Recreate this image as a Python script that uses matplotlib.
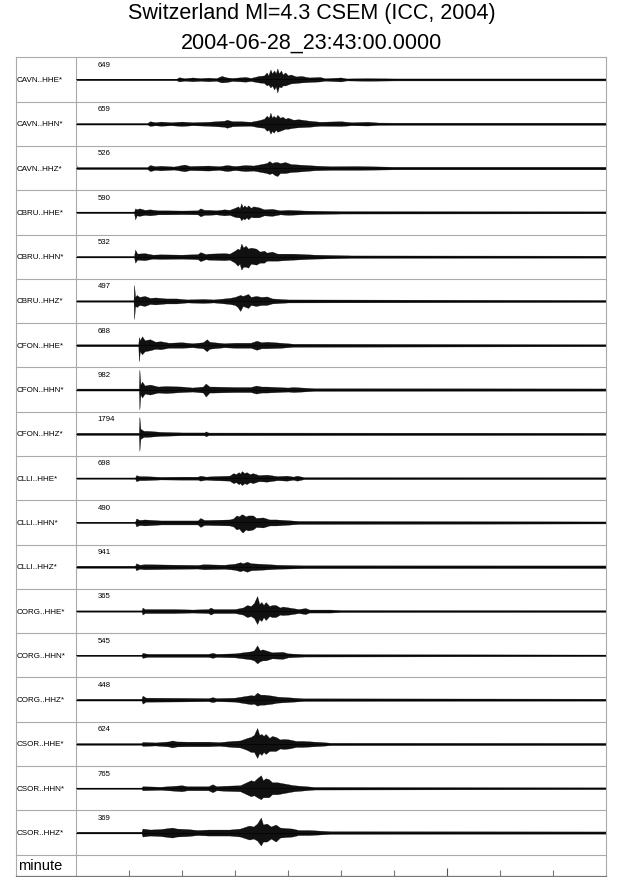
import matplotlib.pyplot as plt

plt.rcParams['font.family'] = ['Liberation Sans', 'DejaVu Sans']

title_1 = "Switzerland Ml=4.3 CSEM (ICC, 2004)"
title_2 = "2004-06-28_23:43:00.0000"

channels = ["CAVN..HHE*", "CAVN..HHN*", "CAVN..HHZ*",
            "CBRU..HHE*", "CBRU..HHN*", "CBRU..HHZ*",
            "CFON..HHE*", "CFON..HHN*", "CFON..HHZ*",
            "CLLI..HHE*", "CLLI..HHN*", "CLLI..HHZ*",
            "CORG..HHE*", "CORG..HHN*", "CORG..HHZ*",
            "CSOR..HHE*", "CSOR..HHN*", "CSOR..HHZ*"]
peaks = [649, 659, 526, 590, 532, 497, 688, 982, 1794,
         698, 490, 941, 365, 545, 448, 624, 765, 369]

# envelope of each trace: (minute, amplitude up, amplitude down)
cavn_hhe = [(0, .8, .8), (1.9, .8, .8), (1.95, 2.2, 2), (2.05, 1.2, 1.2), (2.2, 2, 1.8),
            (2.35, 1.3, 1.3), (2.5, 1.8, 1.8), (2.65, 1.3, 1.3), (2.75, 3.5, 3),
            (2.85, 2, 2.5), (2.95, 1.5, 1.5), (3.2, 2.5, 2.2), (3.3, 1.5, 1.5),
            (3.45, 3.5, 3), (3.55, 4, 3.5), (3.6, 7, 6), (3.63, 4, 5), (3.67, 10, 8),
            (3.7, 6, 6), (3.74, 9, 10), (3.77, 6, 7), (3.8, 11, 13), (3.83, 6, 7),
            (3.87, 9, 8), (3.9, 5, 6), (3.95, 7, 6), (4.0, 4, 5), (4.05, 5, 4),
            (4.15, 3, 3.5), (4.25, 3.5, 3), (4.4, 2, 2.5), (4.6, 2.5, 2), (4.7, 1.2, 1.2),
            (5.0, 2, 2), (5.1, 1, 1), (5.5, 1.3, 1.3), (6.0, 1, 1), (10, 1, 1)]
cavn_hhn = [(0, .8, .8), (1.35, .8, .8), (1.4, 2.5, 2.2), (1.5, 1.5, 1.5), (1.6, 2.2, 2),
            (1.8, 1.5, 1.5), (2.0, 2.2, 2.2), (2.2, 1.5, 1.5), (2.5, 2, 2),
            (2.8, 3, 3), (2.85, 4, 4), (2.95, 2.5, 2.5), (3.1, 2.5, 2.2), (3.3, 2, 2),
            (3.45, 3.5, 3.5), (3.55, 5, 4), (3.6, 8, 7), (3.64, 6, 6), (3.67, 11, 10),
            (3.7, 6, 7), (3.73, 8, 9), (3.77, 6, 6), (3.8, 9, 8), (3.85, 6, 7),
            (3.9, 7, 6), (3.95, 5, 5), (4.0, 6, 5), (4.1, 4, 4), (4.2, 4.5, 3.5),
            (4.4, 3, 3), (4.6, 2, 2), (5.0, 2.5, 2.2), (5.2, 1.5, 1.5), (5.5, 2, 1.8),
            (5.7, 1.2, 1.2), (6.0, 1.1, 1.1), (10, 1.1, 1.1)]
cavn_hhz = [(0, 8, 2), (0.02, 1, 1), (1.35, 1, 1), (1.4, 3, 3), (1.5, 1.8, 1.8),
            (1.6, 2.3, 2.3), (1.85, 1.5, 1.5), (2.05, 3.5, 3.2), (2.15, 2, 2),
            (2.5, 2.5, 2.5), (2.7, 1.8, 1.8), (2.85, 3, 3), (3.0, 2, 2), (3.2, 3, 3),
            (3.35, 2.5, 2.5), (3.5, 4, 4), (3.6, 5, 5), (3.65, 7, 6), (3.7, 5, 5),
            (3.75, 6, 7), (3.8, 6, 8), (3.85, 5, 5), (3.95, 6, 5), (4.05, 4, 4),
            (4.2, 3.5, 3.5), (4.5, 2.5, 2.2), (4.8, 1.8, 1.8), (5.3, 2, 1.8),
            (6.0, 1.3, 1.3), (10, 1.3, 1.3)]
cbru_hhe = [(0, .8, .8), (1.1, .8, .8), (1.12, 4, 7), (1.15, 3, 3), (1.2, 4, 3.5),
            (1.3, 2.5, 2.5), (1.4, 3, 3), (1.55, 2, 2), (1.7, 2, 2), (2.0, 1.8, 1.8),
            (2.3, 2, 2), (2.35, 4, 4), (2.42, 2.5, 2.5), (2.5, 2.5, 2.5), (2.65, 2, 2),
            (2.8, 3, 3), (2.9, 2.5, 2.5), (3.0, 4.5, 4.5), (3.06, 6, 5), (3.09, 4, 5),
            (3.12, 9, 8), (3.15, 5, 6), (3.18, 7, 7), (3.22, 5, 5), (3.25, 7, 7),
            (3.3, 4.5, 4.5), (3.35, 6, 5), (3.45, 5, 5), (3.55, 3, 3), (3.7, 3.5, 3.5),
            (3.85, 2, 2), (4.0, 2.5, 2.5), (4.3, 1.8, 1.8), (5.0, 1.2, 1.2), (10, 1, 1)]
cbru_hhn = [(0, .8, .8), (1.1, .8, .8), (1.12, 7, 6), (1.16, 3, 3), (1.3, 3.5, 3.5),
            (1.45, 2, 2), (1.6, 2.3, 2.3), (2.0, 2, 2), (2.3, 2.5, 2.5), (2.35, 4.5, 4.5),
            (2.45, 2.5, 2.5), (2.5, 3, 3), (2.8, 3.5, 3.5), (2.9, 3, 3), (3.0, 6, 6),
            (3.05, 8, 9), (3.09, 7, 7), (3.12, 13, 13), (3.16, 9, 10), (3.2, 11, 10),
            (3.25, 8, 11), (3.3, 9, 7), (3.4, 8, 8), (3.47, 5, 6), (3.55, 6, 6),
            (3.6, 4, 4), (3.7, 5, 4), (3.8, 3, 4), (4.1, 3, 3), (4.5, 2, 2),
            (5.2, 1.2, 1.2), (10, 1, 1)]
cbru_hhz = [(0, .8, .8), (1.09, .8, .8), (1.1, 16, 18), (1.12, 4, 5), (1.15, 6, 6),
            (1.2, 4, 4), (1.3, 5, 5), (1.4, 3, 3), (1.5, 3.5, 3.5), (1.7, 2.5, 2.5),
            (1.9, 2.5, 2.5), (2.1, 1.5, 1.5), (2.4, 2, 2), (2.6, 1.5, 1.5),
            (2.9, 3, 3), (3.0, 4, 4), (3.05, 5, 6), (3.1, 6, 10), (3.15, 5, 5),
            (3.25, 7, 7), (3.3, 4, 4), (3.4, 5, 5), (3.5, 4, 4), (3.6, 4.5, 4),
            (3.7, 2.5, 2.5), (4.0, 1.5, 1.5), (10, 1, 1)]
cfon_hhe = [(0, 1, 1), (1.18, 1, 1), (1.19, 8, 16), (1.21, 5, 6), (1.25, 9, 9),
            (1.3, 5, 6), (1.4, 6, 5), (1.5, 3.5, 3.5), (1.6, 4, 4), (1.75, 2.5, 2.5),
            (2.0, 3, 2.5), (2.2, 2, 2), (2.4, 3, 3), (2.47, 6, 6), (2.52, 3.5, 3.5),
            (2.6, 3, 3), (2.8, 2, 2), (3.0, 2.5, 2.5), (3.3, 2.5, 2.5), (3.41, 4.5, 4.5),
            (3.5, 3, 3), (3.6, 3.5, 3), (3.87, 2.5, 2.5), (4.1, 1.5, 1.5), (10, 1, 1)]
cfon_hhn = [(0, 1, 1), (1.19, 1, 1), (1.2, 20, 20), (1.22, 5, 5), (1.25, 8, 8),
            (1.3, 4, 4), (1.4, 5, 5), (1.55, 3, 3), (1.7, 3.5, 3.5), (2.0, 3, 2.5),
            (2.2, 2, 2), (2.4, 3, 3), (2.45, 6, 7), (2.52, 3, 3), (2.6, 3, 3),
            (3.0, 2.5, 2.5), (3.3, 2.5, 2.5), (3.4, 4, 4), (3.5, 3, 3), (3.6, 3, 3),
            (4.0, 2, 2), (4.1, 2.5, 2.5), (4.5, 1.3, 1.3), (10, 1.1, 1.1)]
cfon_hhz = [(0, 1.1, 1.1), (1.19, 1.1, 1.1), (1.2, 17, 17), (1.22, 5, 5), (1.28, 3, 3),
            (1.35, 3, 3), (1.6, 2, 2), (2.0, 1.4, 1.4), (2.43, 1.4, 1.4),
            (2.45, 2.5, 2.5), (2.5, 1.3, 1.3), (10, 1.1, 1.1)]
clli_hhe = [(0, .7, .7), (1.12, .7, .7), (1.14, 3, 3), (1.2, 2, 2), (1.3, 2, 2),
            (1.6, 1.3, 1.3), (2.0, 1.5, 1.5), (2.3, 1.5, 1.5), (2.35, 2.5, 2.5),
            (2.45, 1.5, 1.5), (2.6, 2, 2), (2.9, 2.5, 2.5), (2.97, 5, 5), (3.02, 4, 4),
            (3.07, 6, 6), (3.1, 4.5, 5), (3.13, 7, 7), (3.18, 5, 5), (3.22, 6, 6),
            (3.28, 4, 4), (3.34, 5, 5), (3.45, 3, 3), (3.6, 3.5, 3.5), (3.8, 2, 2),
            (3.98, 2.5, 2.5), (4.1, 1.5, 1.5), (4.17, 2.5, 2.5), (4.3, 1, 1), (10, .9, .9)]
clli_hhn = [(0, .7, .7), (1.12, .7, .7), (1.14, 4, 4), (1.2, 2.5, 2.5), (1.3, 3, 3),
            (1.6, 2, 2), (2.0, 2, 2), (2.3, 2, 2), (2.35, 4.5, 4.5), (2.42, 2.5, 2.5),
            (2.5, 2.5, 2.5), (2.9, 3, 3), (2.97, 4, 4), (3.03, 7, 7), (3.08, 6, 6),
            (3.12, 8, 9), (3.15, 8, 10), (3.2, 6, 7), (3.25, 7, 8), (3.34, 7, 7),
            (3.4, 4.5, 4.5), (3.53, 5, 5), (3.65, 3, 3), (3.78, 3, 3), (4.2, 1.5, 1.5),
            (10, 1, 1)]
clli_hhz = [(0, 1.1, 1.1), (1.12, 1.1, 1.1), (1.14, 3.5, 3.5), (1.2, 2, 2), (1.3, 2.5, 2.5),
            (2.0, 2, 2), (2.3, 1.8, 1.8), (2.41, 2.5, 2.5), (2.8, 2, 2), (3.0, 3, 3),
            (3.1, 4.5, 4.5), (3.15, 3.5, 3.5), (3.23, 5, 5), (3.3, 3.5, 3.5),
            (3.48, 3, 3), (3.8, 2, 2), (4.3, 1.4, 1.4), (10, 1.3, 1.3)]
corg_hhe = [(0, .7, .7), (1.24, .7, .7), (1.26, 3.5, 3.5), (1.3, 2, 2), (1.4, 2, 2),
            (1.85, 2, 2), (2.2, 1.5, 1.5), (2.5, 2, 2), (2.54, 3.5, 3.5), (2.6, 2, 2),
            (2.7, 2, 2), (3.0, 2, 2), (3.15, 3.5, 3.5), (3.23, 6, 6), (3.3, 5, 5),
            (3.36, 8, 7), (3.42, 15, 13), (3.46, 7, 8), (3.5, 9, 10), (3.54, 6, 6),
            (3.58, 9, 9), (3.65, 5, 5), (3.7, 6, 6), (3.77, 6, 6), (3.85, 3.5, 3.5),
            (3.9, 4.5, 4), (4.02, 3.5, 3.5), (4.2, 2, 2), (4.33, 3, 3), (4.4, 1.5, 1.5),
            (4.8, 1.5, 1.5), (5.0, 1, 1), (10, .9, .9)]
corg_hhn = [(0, .7, .7), (1.24, .7, .7), (1.26, 2.5, 2.5), (1.35, 1.5, 1.5),
            (1.6, 1.5, 1.5), (2.5, 1.5, 1.5), (2.58, 2.5, 2.5), (2.65, 1.5, 1.5),
            (3.0, 2, 2), (3.3, 4, 4), (3.36, 5, 5), (3.42, 10, 8), (3.47, 5, 6),
            (3.52, 6, 5), (3.58, 5, 5), (3.7, 3, 3), (3.9, 3.5, 3.5), (4.0, 2, 2),
            (4.3, 1.2, 1.2), (10, .8, .8)]
corg_hhz = [(0, .9, .9), (1.24, .9, .9), (1.26, 4, 4), (1.32, 2, 2), (1.4, 2, 2),
            (2.0, 1.8, 1.8), (2.5, 1.5, 1.5), (2.58, 2.5, 2.5), (2.65, 1.5, 1.5),
            (3.0, 2, 2), (3.3, 4.5, 4.5), (3.36, 4, 4), (3.42, 7, 6), (3.48, 5, 5),
            (3.55, 5, 5), (3.7, 4, 4), (3.8, 3, 3), (3.96, 2.5, 2.5), (4.3, 1.3, 1.3),
            (10, 1, 1)]
csor_hhe = [(0, .9, .9), (1.24, .9, .9), (1.26, 2, 2), (1.5, 1.5, 1.5), (1.75, 2.5, 2.5),
            (1.82, 3.5, 3.5), (1.9, 2.5, 2.5), (2.1, 2.3, 2.3), (2.5, 2.3, 2.3),
            (2.7, 1.8, 1.8), (2.95, 3, 3), (3.1, 3.5, 3.5), (3.23, 6, 6), (3.3, 7, 8),
            (3.36, 9, 8), (3.42, 16, 14), (3.46, 9, 9), (3.5, 10, 11), (3.54, 8, 8),
            (3.58, 10, 10), (3.65, 6, 7), (3.7, 8, 7), (3.77, 7, 7), (3.85, 4.5, 4.5),
            (3.92, 5, 5), (4.02, 4.5, 4.5), (4.15, 3, 3), (4.27, 3, 3), (4.6, 2, 2),
            (4.8, 1.2, 1.2), (10, 1.1, 1.1)]
csor_hhn = [(0, .7, .7), (1.24, .7, .7), (1.26, 2, 2), (1.6, 1.5, 1.5), (2.0, 3, 3),
            (2.1, 2, 2), (2.5, 2, 2), (2.58, 4, 4), (2.65, 2, 2), (2.8, 2.5, 2.5),
            (3.1, 3, 3), (3.3, 8, 8), (3.36, 7, 7), (3.42, 10, 9), (3.49, 13, 11),
            (3.53, 8, 9), (3.58, 10, 9), (3.64, 9, 9), (3.7, 6, 6), (3.8, 6, 6),
            (3.9, 5, 5), (4.11, 3, 3), (4.5, 1.3, 1.3), (10, .9, .9)]
csor_hhz = [(0, .9, .9), (1.24, .9, .9), (1.26, 4, 4), (1.4, 3, 3), (1.6, 3.5, 3.5),
            (1.82, 5, 5), (1.9, 4, 4), (2.1, 3.5, 3.5), (2.3, 2.5, 2.5), (2.5, 3, 3),
            (2.9, 3, 3), (3.1, 4, 4), (3.27, 7, 7), (3.35, 6, 6), (3.42, 9, 8),
            (3.49, 15, 13), (3.53, 8, 9), (3.6, 9, 9), (3.68, 6, 6), (3.77, 8, 9),
            (3.85, 5, 5), (3.95, 4.5, 4.5), (4.08, 4, 4), (4.2, 2.5, 2.5), (4.4, 2.5, 2.5),
            (4.8, 1.3, 1.3), (10, 1.1, 1.1)]

traces = [cavn_hhe, cavn_hhn, cavn_hhz, cbru_hhe, cbru_hhn, cbru_hhz,
          cfon_hhe, cfon_hhn, cfon_hhz, clli_hhe, clli_hhn, clli_hhz,
          corg_hhe, corg_hhn, corg_hhz, csor_hhe, csor_hhn, csor_hhz]

minute_ticks = [1, 2, 3, 4, 5, 6, 8, 9]
ten_minute_ticks = [7]

W, H = 640, 878
fig = plt.figure(figsize=(W / 100, H / 100), dpi=100)

# frame in pixels
left, right, top, bottom = 16, 606.3, 58.3, 876.7
x0, px_min = 75.7, 53.06
row = 44.3
xmin = (left - x0) / px_min

ax = fig.add_axes([left / W, 1 - bottom / H, (right - left) / W, (bottom - top) / H])
ax.set_xlim(xmin, 10)
ax.set_ylim(bottom - top, 0)
grid_c = '#aaaaaa'
for s in ['left', 'right', 'top']:
    ax.spines[s].set_color(grid_c)
    ax.spines[s].set_linewidth(0.8)
ax.spines['bottom'].set_color('#777777')
ax.spines['bottom'].set_linewidth(0.9)

for i in range(1, 19):
    ax.axhline(row * i, color=grid_c, lw=0.8)
ax.axvline(0, color=grid_c, lw=0.8)

for i, (name, pk, tr) in enumerate(zip(channels, peaks, traces)):
    base = row * (i + 0.5)
    t = [p[0] for p in tr]
    up = [base - p[1] for p in tr]
    dn = [base + p[2] for p in tr]
    ax.fill_between(t, up, dn, facecolor='#111111', edgecolor='black', lw=0.2)
    ax.plot([0, 10], [base, base], color='black', lw=0.5)
    ax.text(xmin + 0.02, base, name, fontsize=5.8, va='center', ha='left')
    ax.text((97.5 - x0) / px_min, row * i + 7, str(pk), fontsize=5.6,
            va='center', ha='left')

ax.text(xmin + 0.03, (18 * row + (bottom - top)) / 2, 'minute', fontsize=10.5,
        va='center', ha='left')

ax.set_yticks([])
ax.set_xticks(ten_minute_ticks)
ax.set_xticks(minute_ticks, minor=True)
ax.set_xticklabels([])
ax.tick_params(axis='x', which='major', direction='in', length=6, color='#555555', width=0.8)
ax.tick_params(axis='x', which='minor', direction='in', length=4, color='#777777', width=0.8)

fig.text(312 / W, 1 - 19.5 / H, title_1, fontsize=15.5, ha='center', va='baseline')
fig.text(312 / W, 1 - 48.5 / H, title_2, fontsize=15.5, ha='center', va='baseline')

fig.savefig('out.png', dpi=100)
